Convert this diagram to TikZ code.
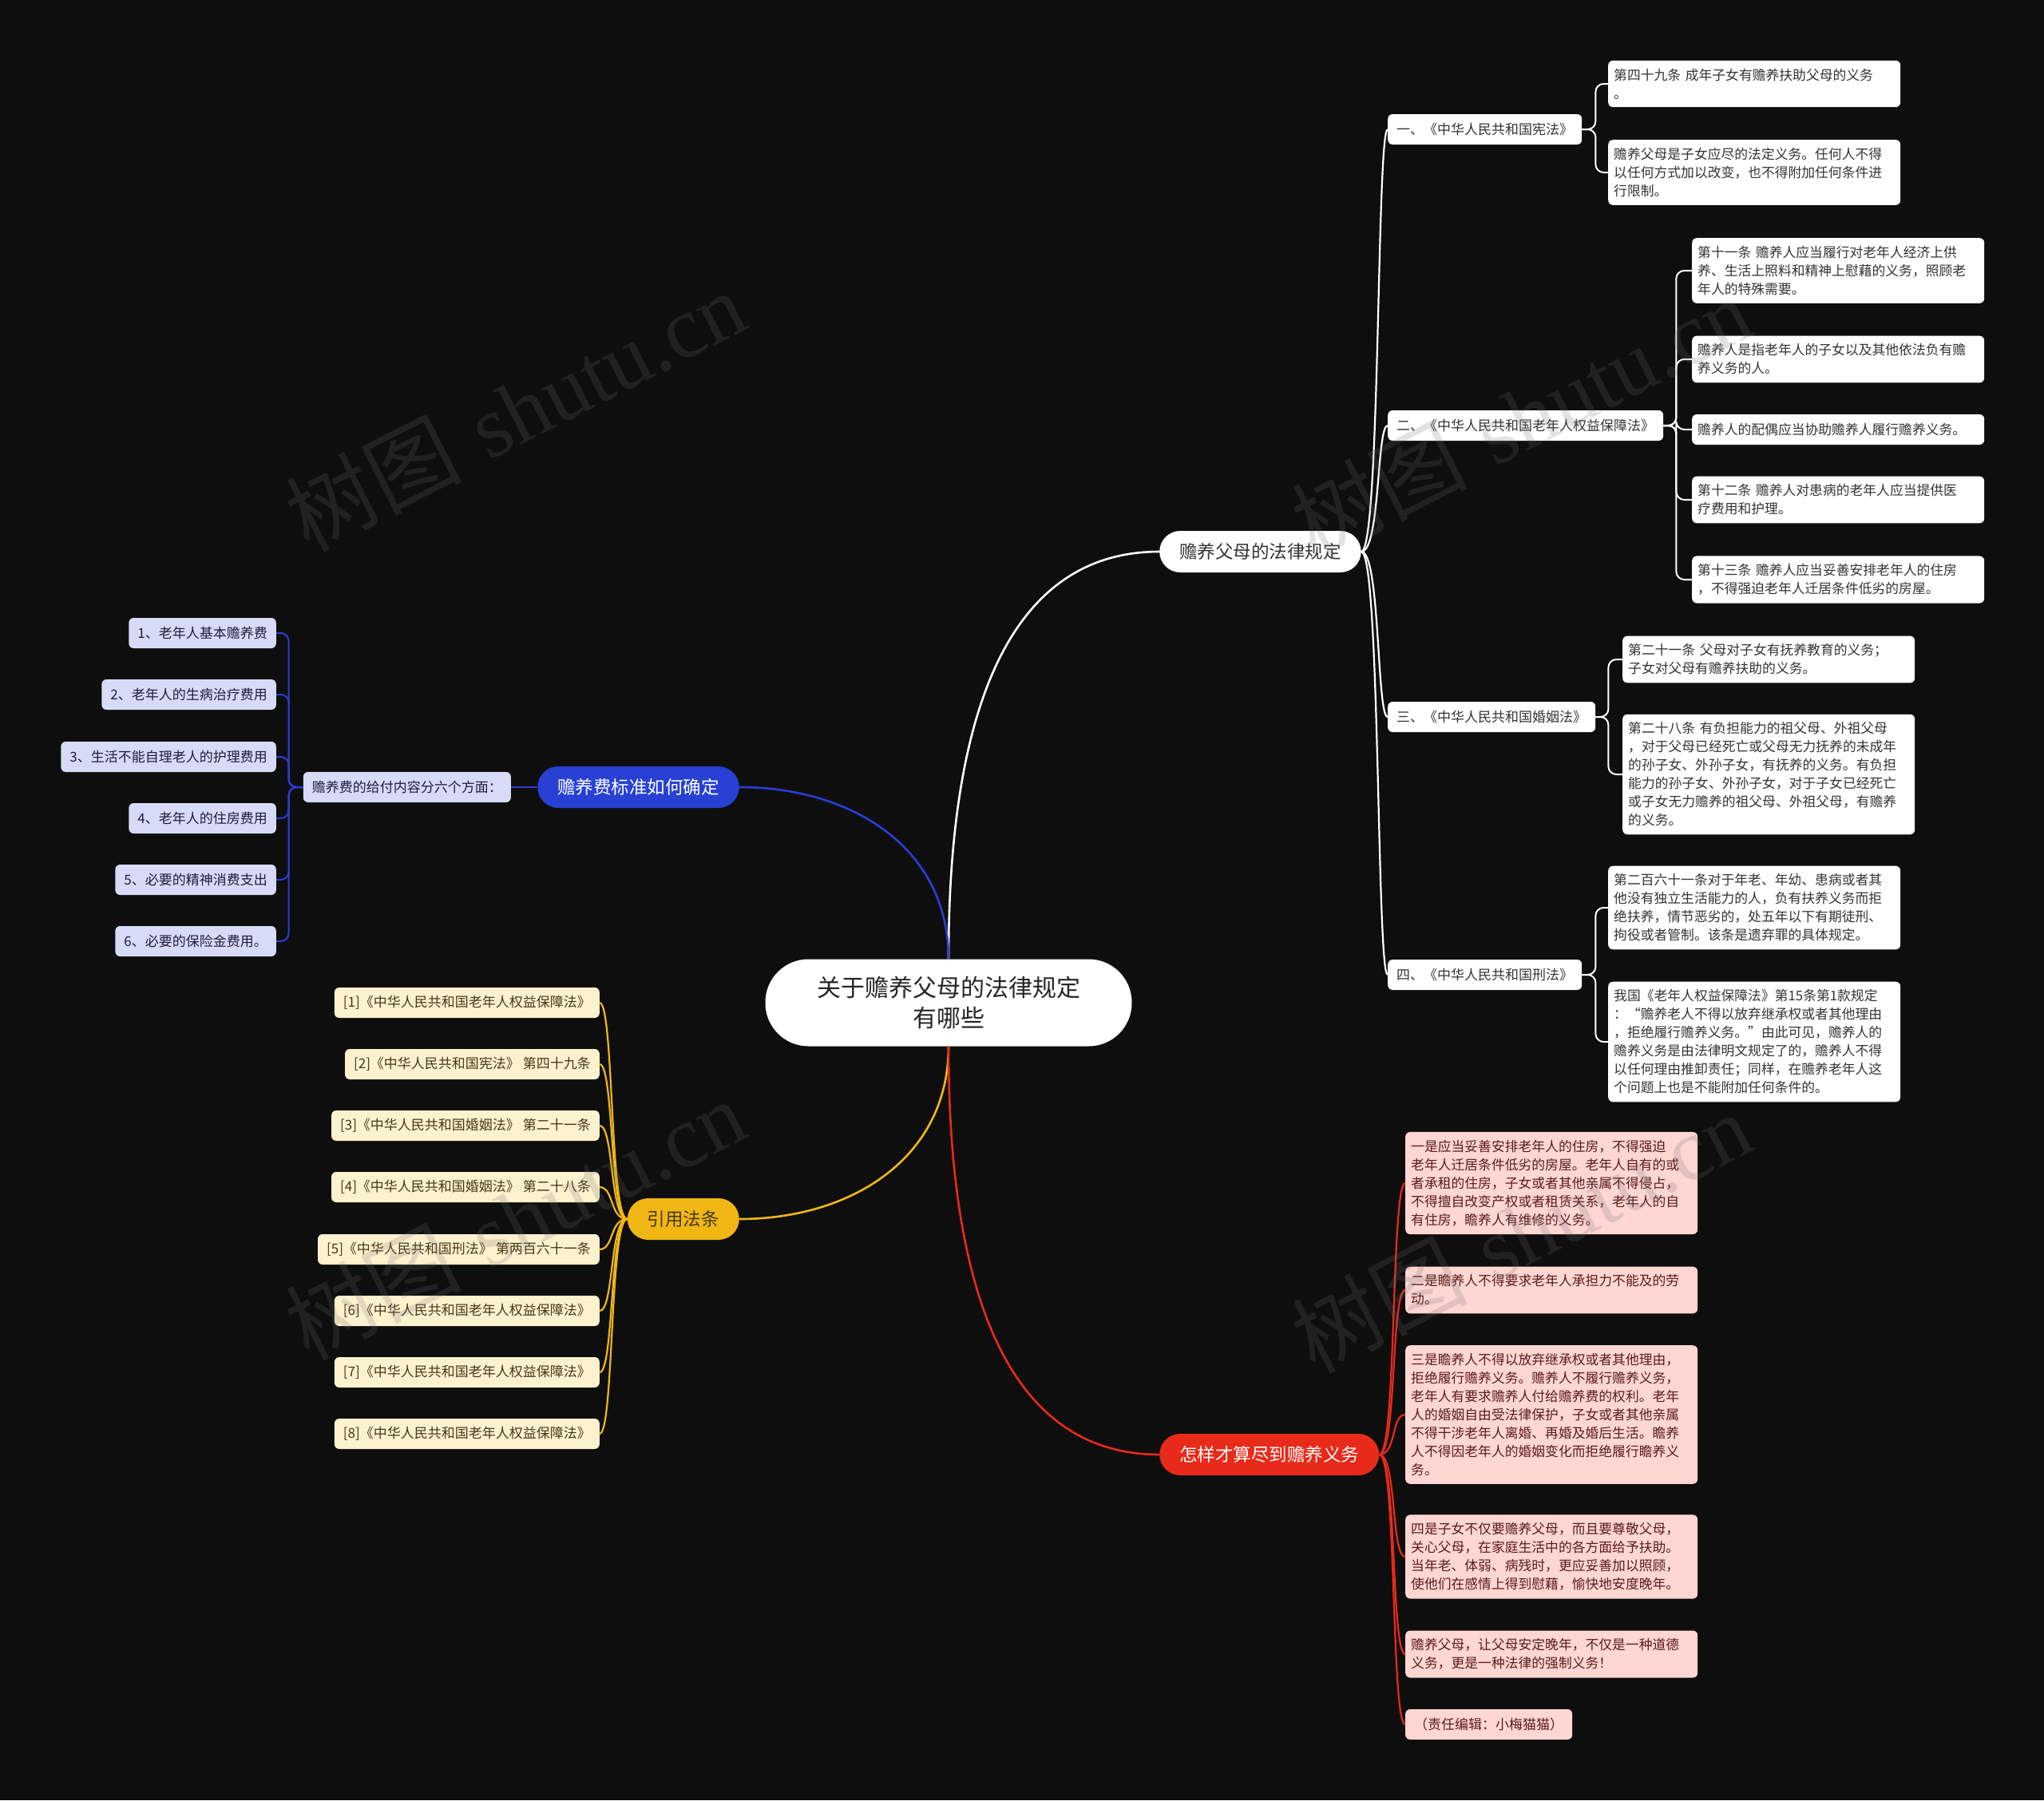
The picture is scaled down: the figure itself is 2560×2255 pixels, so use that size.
\documentclass[tikz,border=0pt]{standalone}
\usepackage{fontspec}
\newfontfamily\cjk{Noto Sans CJK SC}
\newfontfamily\wmlatin{Liberation Serif}
\definecolor{bgdark}{RGB}{14,14,14}
\definecolor{mapblue}{RGB}{40,64,212}
\definecolor{mapyellow}{RGB}{240,183,20}
\definecolor{mapred}{RGB}{232,42,26}
\definecolor{leafblue}{RGB}{216,219,248}
\definecolor{leafyellow}{RGB}{253,242,206}
\definecolor{leafred}{RGB}{254,214,210}
\definecolor{inkgray}{RGB}{51,51,51}
\definecolor{inkblue}{RGB}{30,30,60}
\definecolor{inkbrown}{RGB}{70,55,25}
\definecolor{inkred}{RGB}{90,28,28}
\definecolor{wmgray}{RGB}{113,113,113}

\begin{document}
\begin{tikzpicture}[x=1pt,y=-1pt,
  rootbox/.style={fill=white,text=black!85,rounded corners=54pt,minimum width=459pt,minimum height=109pt,align=center,font=\cjk\fontsize{30}{38}\selectfont},
  topicbox/.style={rounded corners=26pt,minimum height=52pt,inner xsep=25pt,inner ysep=0pt,font=\cjk\fontsize{22.5}{27}\selectfont},
  tagbox/.style={rounded corners=6pt,minimum height=38pt,inner xsep=11pt,inner ysep=0pt,font=\cjk\fontsize{17}{22}\selectfont},
  leafbox/.style={rounded corners=6pt,minimum height=38pt,inner xsep=7pt,inner ysep=10pt,text width=352pt,align=left,font=\cjk\fontsize{16.8}{23}\selectfont},
  mainlink/.style={line width=2.6pt},
  curvelink/.style={line width=2.2pt},
  bracketlink/.style={line width=2pt,rounded corners=10pt},
  wmark/.style={text=wmgray,text opacity=0.2,rotate=27,font=\fontsize{110}{110}\selectfont}]
% ---------- background ----------
\fill[bgdark] (0,0) rectangle (2560,2255);
\useasboundingbox (0,0) rectangle (2560,2255);

% ---------- centre and topics ----------
\node[rootbox] (root) at (1188,1256) {关于赡养父母的法律规定\\有哪些};
\node[topicbox,fill=white,text=inkgray,anchor=west] (law) at (1452,691) {赡养父母的法律规定};
\node[topicbox,fill=mapblue,text=white,anchor=east] (fee) at (926,986) {赡养费标准如何确定};
\node[topicbox,fill=mapyellow,text=inkbrown,anchor=east] (cite) at (926,1527) {引用法条};
\node[topicbox,fill=mapred,text=white,anchor=west] (duty) at (1452,1822) {怎样才算尽到赡养义务};
\draw[mainlink,white] (root.north) .. controls +(0,-225) and +(-225,0) .. (law.west);
\draw[mainlink,mapblue] (root.north) .. controls +(0,-140) and +(140,0) .. (fee.east);
\draw[mainlink,mapyellow] (root.south) .. controls +(0,140) and +(140,0) .. (cite.east);
\draw[mainlink,mapred] (root.south) .. controls +(0,225) and +(-225,0) .. (duty.west);

% ---------- law texts ----------
\node[tagbox,fill=white,text=inkgray,anchor=west] (lawA) at (1738,162) {一、《中华人民共和国宪法》};
\node[tagbox,fill=white,text=inkgray,anchor=west] (lawB) at (1738,533) {二、《中华人民共和国老年人权益保障法》};
\node[tagbox,fill=white,text=inkgray,anchor=west] (lawC) at (1738,898) {三、《中华人民共和国婚姻法》};
\node[tagbox,fill=white,text=inkgray,anchor=west] (lawD) at (1738,1221) {四、《中华人民共和国刑法》};
\draw[curvelink,white] (law.east) .. controls +(24,0) and +(-14,0) .. (lawA.west);
\draw[curvelink,white] (law.east) .. controls +(24,0) and +(-14,0) .. (lawB.west);
\draw[curvelink,white] (law.east) .. controls +(24,0) and +(-14,0) .. (lawC.west);
\draw[curvelink,white] (law.east) .. controls +(24,0) and +(-14,0) .. (lawD.west);

\node[leafbox,fill=white,text=inkgray,anchor=west] (lawA1) at (2014,105) {第四十九条 成年子女有赡养扶助父母的义务\\。};
\node[leafbox,fill=white,text=inkgray,anchor=west] (lawA2) at (2014,216) {赡养父母是子女应尽的法定义务。任何人不得\\以任何方式加以改变，也不得附加任何条件进\\行限制。};
\draw[bracketlink,white] (lawA.east) -- ++(17,0) |- (lawA1.west);
\draw[bracketlink,white] (lawA.east) -- ++(17,0) |- (lawA2.west);

\node[leafbox,fill=white,text=inkgray,anchor=west] (lawB1) at (2119,339) {第十一条 赡养人应当履行对老年人经济上供\\养、生活上照料和精神上慰藉的义务，照顾老\\年人的特殊需要。};
\node[leafbox,fill=white,text=inkgray,anchor=west] (lawB2) at (2119,450) {赡养人是指老年人的子女以及其他依法负有赡\\养义务的人。};
\node[leafbox,fill=white,text=inkgray,anchor=west] (lawB3) at (2119,538) {赡养人的配偶应当协助赡养人履行赡养义务。};
\node[leafbox,fill=white,text=inkgray,anchor=west] (lawB4) at (2119,626) {第十二条 赡养人对患病的老年人应当提供医\\疗费用和护理。};
\node[leafbox,fill=white,text=inkgray,anchor=west] (lawB5) at (2119,726) {第十三条 赡养人应当妥善安排老年人的住房\\，不得强迫老年人迁居条件低劣的房屋。};
\draw[bracketlink,white] (lawB.east) -- ++(16,0) |- (lawB1.west);
\draw[bracketlink,white] (lawB.east) -- ++(16,0) |- (lawB2.west);
\draw[bracketlink,white] (lawB.east) -- ++(16,0) |- (lawB3.west);
\draw[bracketlink,white] (lawB.east) -- ++(16,0) |- (lawB4.west);
\draw[bracketlink,white] (lawB.east) -- ++(16,0) |- (lawB5.west);

\node[leafbox,fill=white,text=inkgray,anchor=west] (lawC1) at (2032,826) {第二十一条 父母对子女有抚养教育的义务；\\子女对父母有赡养扶助的义务。};
\node[leafbox,fill=white,text=inkgray,anchor=west] (lawC2) at (2032,970) {第二十八条 有负担能力的祖父母、外祖父母\\，对于父母已经死亡或父母无力抚养的未成年\\的孙子女、外孙子女，有抚养的义务。有负担\\能力的孙子女、外孙子女，对于子女已经死亡\\或子女无力赡养的祖父母、外祖父母，有赡养\\的义务。};
\draw[bracketlink,white] (lawC.east) -- ++(16,0) |- (lawC1.west);
\draw[bracketlink,white] (lawC.east) -- ++(16,0) |- (lawC2.west);

\node[leafbox,fill=white,text=inkgray,anchor=west] (lawD1) at (2014,1137) {第二百六十一条对于年老、年幼、患病或者其\\他没有独立生活能力的人，负有扶养义务而拒\\绝扶养，情节恶劣的，处五年以下有期徒刑、\\拘役或者管制。该条是遗弃罪的具体规定。};
\node[leafbox,fill=white,text=inkgray,anchor=west] (lawD2) at (2014,1305) {我国《老年人权益保障法》第15条第1款规定\\：“赡养老人不得以放弃继承权或者其他理由\\，拒绝履行赡养义务。”由此可见，赡养人的\\赡养义务是由法律明文规定了的，赡养人不得\\以任何理由推卸责任；同样，在赡养老年人这\\个问题上也是不能附加任何条件的。};
\draw[bracketlink,white] (lawD.east) -- ++(17,0) |- (lawD1.west);
\draw[bracketlink,white] (lawD.east) -- ++(17,0) |- (lawD2.west);

% ---------- maintenance fee ----------
\node[tagbox,fill=leafblue,text=inkblue,anchor=east] (share) at (640,986) {赡养费的给付内容分六个方面：};
\draw[curvelink,mapblue] (fee.west) -- (share.east);
\node[tagbox,fill=leafblue,text=inkblue,anchor=east] (fee1) at (346,793) {1、老年人基本赡养费};
\node[tagbox,fill=leafblue,text=inkblue,anchor=east] (fee2) at (346,870) {2、老年人的生病治疗费用};
\node[tagbox,fill=leafblue,text=inkblue,anchor=east] (fee3) at (346,948) {3、生活不能自理老人的护理费用};
\node[tagbox,fill=leafblue,text=inkblue,anchor=east] (fee4) at (346,1025) {4、老年人的住房费用};
\node[tagbox,fill=leafblue,text=inkblue,anchor=east] (fee5) at (346,1102) {5、必要的精神消费支出};
\node[tagbox,fill=leafblue,text=inkblue,anchor=east] (fee6) at (346,1179) {6、必要的保险金费用。};
\draw[bracketlink,mapblue] (share.west) -- ++(-18,0) |- (fee1.east);
\draw[bracketlink,mapblue] (share.west) -- ++(-18,0) |- (fee2.east);
\draw[bracketlink,mapblue] (share.west) -- ++(-18,0) |- (fee3.east);
\draw[bracketlink,mapblue] (share.west) -- ++(-18,0) |- (fee4.east);
\draw[bracketlink,mapblue] (share.west) -- ++(-18,0) |- (fee5.east);
\draw[bracketlink,mapblue] (share.west) -- ++(-18,0) |- (fee6.east);

% ---------- citations ----------
\node[tagbox,fill=leafyellow,text=inkbrown,anchor=east] (cite1) at (751,1256) {[1]《中华人民共和国老年人权益保障法》};
\node[tagbox,fill=leafyellow,text=inkbrown,anchor=east] (cite2) at (751,1333) {[2]《中华人民共和国宪法》 第四十九条};
\node[tagbox,fill=leafyellow,text=inkbrown,anchor=east] (cite3) at (751,1410) {[3]《中华人民共和国婚姻法》 第二十一条};
\node[tagbox,fill=leafyellow,text=inkbrown,anchor=east] (cite4) at (751,1487) {[4]《中华人民共和国婚姻法》 第二十八条};
\node[tagbox,fill=leafyellow,text=inkbrown,anchor=east] (cite5) at (751,1565) {[5]《中华人民共和国刑法》 第两百六十一条};
\node[tagbox,fill=leafyellow,text=inkbrown,anchor=east] (cite6) at (751,1642) {[6]《中华人民共和国老年人权益保障法》};
\node[tagbox,fill=leafyellow,text=inkbrown,anchor=east] (cite7) at (751,1719) {[7]《中华人民共和国老年人权益保障法》};
\node[tagbox,fill=leafyellow,text=inkbrown,anchor=east] (cite8) at (751,1796) {[8]《中华人民共和国老年人权益保障法》};
\draw[curvelink,mapyellow] (cite.west) .. controls +(-22,0) and +(18,0) .. (cite1.east);
\draw[curvelink,mapyellow] (cite.west) .. controls +(-22,0) and +(18,0) .. (cite2.east);
\draw[curvelink,mapyellow] (cite.west) .. controls +(-22,0) and +(18,0) .. (cite3.east);
\draw[curvelink,mapyellow] (cite.west) .. controls +(-22,0) and +(18,0) .. (cite4.east);
\draw[curvelink,mapyellow] (cite.west) .. controls +(-22,0) and +(18,0) .. (cite5.east);
\draw[curvelink,mapyellow] (cite.west) .. controls +(-22,0) and +(18,0) .. (cite6.east);
\draw[curvelink,mapyellow] (cite.west) .. controls +(-22,0) and +(18,0) .. (cite7.east);
\draw[curvelink,mapyellow] (cite.west) .. controls +(-22,0) and +(18,0) .. (cite8.east);

% ---------- duties ----------
\node[leafbox,fill=leafred,text=inkred,anchor=west] (duty1) at (1760,1482) {一是应当妥善安排老年人的住房，不得强迫\\老年人迁居条件低劣的房屋。老年人自有的或\\者承租的住房，子女或者其他亲属不得侵占，\\不得擅自改变产权或者租赁关系，老年人的自\\有住房，瞻养人有维修的义务。};
\node[leafbox,fill=leafred,text=inkred,anchor=west] (duty2) at (1760,1616) {二是瞻养人不得要求老年人承担力不能及的劳\\动。};
\node[leafbox,fill=leafred,text=inkred,anchor=west] (duty3) at (1760,1772) {三是瞻养人不得以放弃继承权或者其他理由，\\拒绝履行赡养义务。赡养人不履行赡养义务，\\老年人有要求赡养人付给赡养费的权利。老年\\人的婚姻自由受法律保护，子女或者其他亲属\\不得干涉老年人离婚、再婚及婚后生活。瞻养\\人不得因老年人的婚姻变化而拒绝履行瞻养义\\务。};
\node[leafbox,fill=leafred,text=inkred,anchor=west] (duty4) at (1760,1950) {四是子女不仅要赡养父母，而且要尊敬父母，\\关心父母，在家庭生活中的各方面给予扶助。\\当年老、体弱、病残时，更应妥善加以照顾，\\使他们在感情上得到慰藉，愉快地安度晚年。};
\node[leafbox,fill=leafred,text=inkred,anchor=west] (duty5) at (1760,2072) {赡养父母，让父母安定晚年，不仅是一种道德\\义务，更是一种法律的强制义务！};
\node[tagbox,fill=leafred,text=inkred,anchor=west] (duty6) at (1760,2160) {（责任编辑：小梅猫猫）};
\draw[curvelink,mapred] (duty.east) .. controls +(22,0) and +(-18,0) .. (duty1.west);
\draw[curvelink,mapred] (duty.east) .. controls +(22,0) and +(-18,0) .. (duty2.west);
\draw[curvelink,mapred] (duty.east) .. controls +(22,0) and +(-18,0) .. (duty3.west);
\draw[curvelink,mapred] (duty.east) .. controls +(22,0) and +(-18,0) .. (duty4.west);
\draw[curvelink,mapred] (duty.east) .. controls +(22,0) and +(-18,0) .. (duty5.west);
\draw[curvelink,mapred] (duty.east) .. controls +(22,0) and +(-18,0) .. (duty6.west);

% ---------- watermark ----------
\node[wmark] (wm1) at (645,514) {{\cjk 树图} {\wmlatin shutu.cn}};
\node[wmark] (wm2) at (1905,522) {{\cjk 树图} {\wmlatin shutu.cn}};
\node[wmark] (wm3) at (645,1527) {{\cjk 树图} {\wmlatin shutu.cn}};
\node[wmark] (wm4) at (1905,1543) {{\cjk 树图} {\wmlatin shutu.cn}};
\end{tikzpicture}
\end{document}
